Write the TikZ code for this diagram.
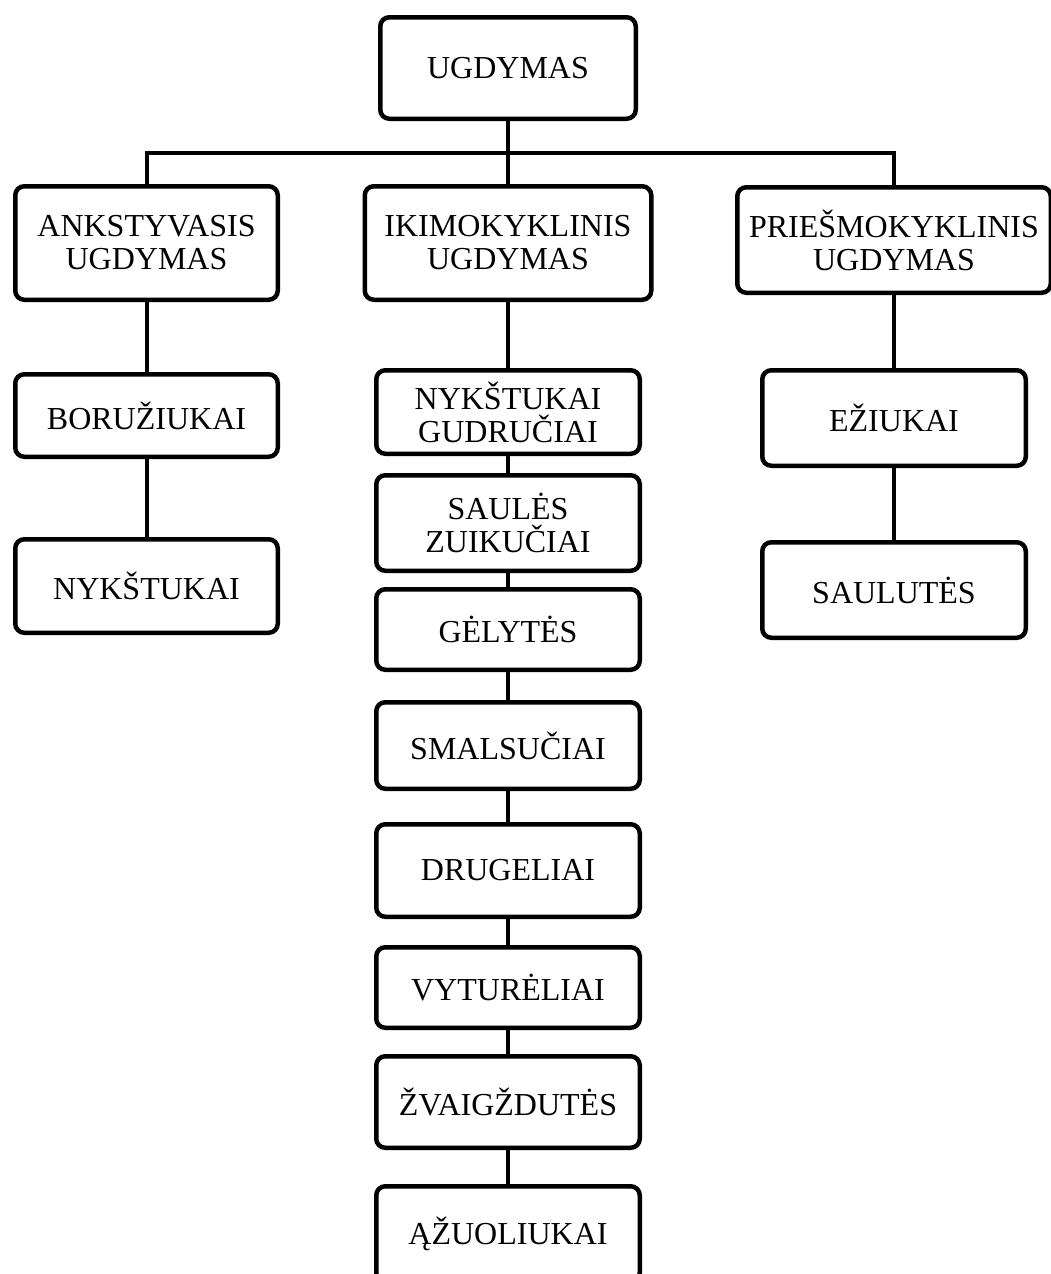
\documentclass[tikz,border=0pt]{standalone}
\usepackage{fontspec}
\setmainfont{Liberation Serif}
\usetikzlibrary{positioning}

\begin{document}
\begin{tikzpicture}[x=1pt,y=-1pt,
  gbox/.style={draw,line width=4.5pt,rounded corners=9pt,align=center,inner sep=0pt,
    font=\fontsize{32}{33}\selectfont},
  sidebox/.style={gbox,minimum width=262.5pt},
  midbox/.style={gbox,minimum width=263.5pt},
  conn/.style={line width=4pt}]
  \useasboundingbox (0,0) rectangle (1050,1274);

  \node[gbox,minimum width=255.5pt,minimum height=101.5pt] (ugd) at (508,68) {UGDYMAS};

  % second level
  \node[sidebox,minimum height=113.5pt] (anks) at (146.5,243) {ANKSTYVASIS\\UGDYMAS};
  \node[gbox,minimum width=286.5pt,minimum height=113.5pt] (iki) at (508,243) {IKIMOKYKLINIS\\UGDYMAS};
  \node[gbox,minimum width=313.5pt,minimum height=105.5pt] (pries) at (894,240) {PRIEŠMOKYKLINIS\\UGDYMAS};

  % left column
  \node[sidebox,minimum height=82.5pt] (boruz) at (146.5,415.5) {BORUŽIUKAI};
  \node[sidebox,minimum height=93.5pt] (nykst) at (146.5,586) {NYKŠTUKAI};

  % right column
  \node[midbox,minimum height=95.5pt] (eziuk) at (894,418) {EŽIUKAI};
  \node[midbox,minimum height=95.5pt] (saulut) at (894,590) {SAULUTĖS};

  % middle column
  \node[midbox,minimum height=83.5pt] (nykg) at (508,412) {NYKŠTUKAI\\GUDRUČIAI};
  \node[midbox,minimum height=95.5pt,below=17pt of nykg] (saules) {SAULĖS\\ZUIKUČIAI};
  \node[midbox,minimum height=80.5pt,below=14pt of saules] (gelyt) {GĖLYTĖS};
  \node[midbox,minimum height=86.5pt,below=28pt of gelyt] (smals) {SMALSUČIAI};
  \node[midbox,minimum height=92.5pt,below=31pt of smals] (drug) {DRUGELIAI};
  \node[midbox,minimum height=80.5pt,below=26pt of drug] (vyt) {VYTURĖLIAI};
  \node[midbox,minimum height=91.5pt,below=24pt of vyt] (zvaig) {ŽVAIGŽDUTĖS};
  \node[midbox,minimum height=95.5pt,below=34pt of zvaig] (azuol) {ĄŽUOLIUKAI};

  % connectors
  \coordinate (bus) at (508,153);
  \draw[conn] (ugd) -- (iki);
  \draw[conn] (anks) |- (bus) -| (pries);
  \draw[conn] (anks) -- (boruz) -- (nykst);
  \draw[conn] (pries) -- (eziuk) -- (saulut);
  \draw[conn] (iki) -- (nykg) -- (saules) -- (gelyt) -- (smals) -- (drug) -- (vyt) -- (zvaig) -- (azuol);
\end{tikzpicture}
\end{document}
